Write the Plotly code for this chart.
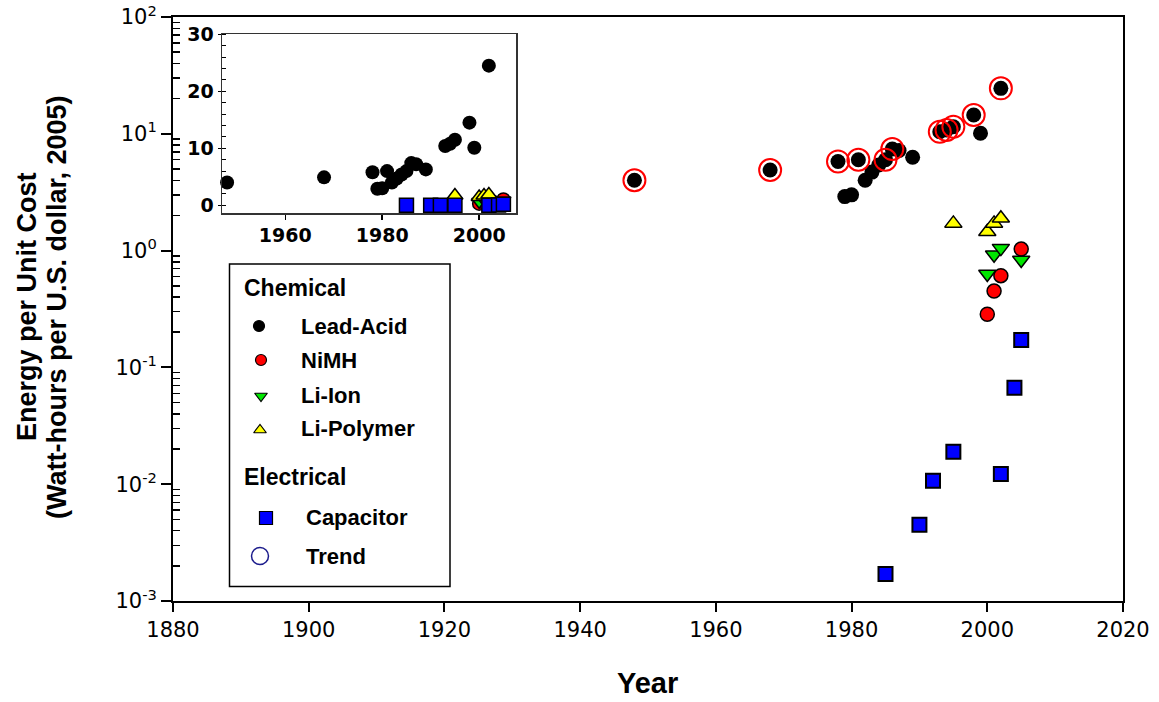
import plotly.graph_objects as go

# ---------------- data ----------------
lead_years = [1948, 1968, 1978, 1979, 1980, 1981, 1982, 1983, 1984, 1985, 1986, 1987, 1989, 1993, 1994, 1995, 1998, 1999, 2002]
lead_values = [4.0, 4.9, 5.8, 2.9, 3.0, 6.0, 4.0, 4.7, 5.4, 6.0, 7.4, 7.2, 6.3, 10.4, 10.8, 11.5, 14.5, 10.1, 24.5]

trend_years = [1948, 1968, 1978, 1981, 1985, 1986, 1993, 1994, 1995, 1998, 2002]
trend_values = [4.0, 4.9, 5.8, 6.0, 6.0, 7.4, 10.4, 10.8, 11.5, 14.5, 24.5]

nimh_years = [2000, 2001, 2002, 2005]
nimh_values = [0.285, 0.45, 0.61, 1.03]

liion_years = [2000, 2001, 2002, 2005]
liion_values = [0.63, 0.92, 1.05, 0.83]

lipoly_years = [1995, 2000, 2001, 2002]
lipoly_values = [1.71, 1.45, 1.71, 1.89]

cap_years = [1985, 1990, 1992, 1995, 2002, 2004, 2005]
cap_values = [0.0017, 0.0045, 0.0107, 0.019, 0.0122, 0.067, 0.172]

x_ticks = [1880, 1900, 1920, 1940, 1960, 1980, 2000, 2020]
y_tickvals = [0.001, 0.01, 0.1, 1, 10, 100]
y_ticktext = ["10<sup>-3</sup>", "10<sup>-2</sup>", "10<sup>-1</sup>", "10<sup>0</sup>", "10<sup>1</sup>", "10<sup>2</sup>"]
inset_x_ticks = [1960, 1980, 2000]
inset_y_ticks = [0, 10, 20, 30]

legend_chemical = ["Lead-Acid", "NiMH", "Li-Ion", "Li-Polymer"]
legend_electrical = ["Capacitor", "Trend"]

# ---------------- styles ----------------
BLACK = "#000000"
RED = "#ff0000"
GREEN = "#00e600"
YELLOW = "#ffff00"
BLUE = "#0000ff"
NAVY = "#1c1c8c"

W, H = 1159, 702
# plot area in page pixels
L, R, T, B = 173, 1123, 17, 601
PW, PH = R - L, B - T


def px(xp):
    return (xp - L) / PW


def py(yp):
    return (B - yp) / PH


fig = go.Figure()

# ---------- main plot ----------
edge = dict(color=BLACK, width=1.5)
fig.add_trace(go.Scatter(x=lead_years, y=lead_values, mode="markers",
                         marker=dict(symbol="circle", size=15, color=BLACK, opacity=1), showlegend=False))
fig.add_trace(go.Scatter(x=trend_years, y=trend_values, mode="markers",
                         marker=dict(symbol="circle-open", size=22, color=RED, opacity=1,
                                     line=dict(color=RED, width=2)),
                         showlegend=False))
fig.add_trace(go.Scatter(x=nimh_years, y=nimh_values, mode="markers",
                         marker=dict(symbol="circle", size=14, color=RED, line=edge, opacity=1), showlegend=False))
fig.add_trace(go.Scatter(x=liion_years, y=liion_values, mode="markers",
                         marker=dict(symbol="triangle-down", size=15, color=GREEN, line=edge, opacity=1),
                         showlegend=False))
fig.add_trace(go.Scatter(x=lipoly_years, y=lipoly_values, mode="markers",
                         marker=dict(symbol="triangle-up", size=15, color=YELLOW, line=edge, opacity=1),
                         showlegend=False))
fig.add_trace(go.Scatter(x=cap_years, y=cap_values, mode="markers",
                         marker=dict(symbol="square", size=14, color=BLUE, opacity=1,
                                     line=dict(color=BLACK, width=2)),
                         showlegend=False))

# ---------- inset ----------
fig.add_trace(go.Scatter(x=lead_years, y=lead_values, mode="markers", xaxis="x2", yaxis="y2", cliponaxis=False,
                         marker=dict(symbol="circle", size=14, color=BLACK, opacity=1), showlegend=False))
fig.add_trace(go.Scatter(x=nimh_years, y=nimh_values, mode="markers", xaxis="x2", yaxis="y2",
                         marker=dict(symbol="circle", size=13, color=RED, line=edge, opacity=1), showlegend=False))
fig.add_trace(go.Scatter(x=liion_years, y=liion_values, mode="markers", xaxis="x2", yaxis="y2",
                         marker=dict(symbol="triangle-down", size=13, color=GREEN, line=edge, opacity=1),
                         showlegend=False))
fig.add_trace(go.Scatter(x=lipoly_years, y=lipoly_values, mode="markers", xaxis="x2", yaxis="y2",
                         marker=dict(symbol="triangle-up", size=14, color=YELLOW, line=edge, opacity=1),
                         showlegend=False))
fig.add_trace(go.Scatter(x=cap_years, y=cap_values, mode="markers", xaxis="x2", yaxis="y2",
                         marker=dict(symbol="square", size=14, color=BLUE, line=edge, opacity=1),
                         showlegend=False))

# ---------- legend glyphs (overlay axes in page-pixel units) ----------
glyph_x = [259, 261, 261, 260, 266]
glyph_y = [326, 360, 396, 430, 518]
glyph_sym = ["circle", "circle", "triangle-down", "triangle-up", "square"]
glyph_col = [BLACK, RED, GREEN, YELLOW, BLUE]
glyph_size = [11, 11, 11, 11, 13]
fig.add_trace(go.Scatter(x=glyph_x, y=glyph_y, mode="markers", xaxis="x3", yaxis="y3",
                         marker=dict(symbol=glyph_sym, size=glyph_size, color=glyph_col, opacity=1,
                                     line=dict(color=BLACK, width=1.2)),
                         showlegend=False, hoverinfo="skip"))
fig.add_trace(go.Scatter(x=[260], y=[556], mode="markers", xaxis="x3", yaxis="y3",
                         marker=dict(symbol="circle-open", size=17, color=NAVY, opacity=1,
                                     line=dict(color=NAVY, width=1.5)),
                         showlegend=False, hoverinfo="skip"))

MAIN_TICK_FONT = dict(family="DejaVu Sans", size=21, color=BLACK)
INSET_TICK_FONT = dict(family="DejaVu Sans", size=19, color=BLACK, weight="bold")

fig.update_layout(
    width=W, height=H,
    margin=dict(l=L, r=W - R, t=T, b=H - B, pad=0, autoexpand=False),
    paper_bgcolor="white", plot_bgcolor="white",
    showlegend=False,
    xaxis=dict(range=[1880, 2020], tickvals=x_ticks, ticks="outside", ticklen=9, tickwidth=2,
               tickcolor=BLACK, showline=True, linecolor=BLACK, linewidth=2, mirror=True,
               showgrid=False, zeroline=False, tickfont=MAIN_TICK_FONT, automargin=False,
               ticklabeloverflow="allow"),
    yaxis=dict(type="log", range=[-3, 2], tickvals=y_tickvals, ticktext=y_ticktext,
               ticks="outside", ticklen=10, tickwidth=2, tickcolor=BLACK,
               showline=True, linecolor=BLACK, linewidth=2, mirror=True,
               showgrid=False, zeroline=False, tickfont=MAIN_TICK_FONT, automargin=False,
               ticklabeloverflow="allow",
               minor=dict(ticks="inside", ticklen=7, tickwidth=1.5, tickcolor=BLACK, showgrid=False,
                          tickvals=[k * 10.0 ** e for e in range(-3, 2) for k in range(2, 10)])),
    xaxis2=dict(domain=[px(222), px(516)], anchor="y2", range=[1946.95, 2007.6],
                tickvals=inset_x_ticks, ticks="outside", ticklen=5, tickwidth=1.5, tickcolor=BLACK,
                showline=True, linecolor="#333333", linewidth=1.5, mirror=True,
                showgrid=False, zeroline=False, tickfont=INSET_TICK_FONT, automargin=False),
    yaxis2=dict(domain=[py(213), py(34)], anchor="x2", range=[-1.35, 30.05],
                tickvals=inset_y_ticks, ticks="outside", ticklen=3, tickwidth=1.5, tickcolor=BLACK,
                showline=True, linecolor="#333333", linewidth=1.5, mirror=True,
                showgrid=False, zeroline=False, tickfont=INSET_TICK_FONT, automargin=False,
                minor=dict(ticks="inside", ticklen=4, tickwidth=1, tickcolor=BLACK, dtick=2, showgrid=False)),
    xaxis3=dict(overlaying="x", range=[L, R], visible=False, anchor="y3", automargin=False),
    yaxis3=dict(overlaying="y", range=[B, T], visible=False, anchor="x3", automargin=False),
)

# legend box
fig.add_shape(type="rect", xref="paper", yref="paper", x0=px(229.5), x1=px(450), y0=py(586.5), y1=py(264),
              line=dict(color=BLACK, width=1.5), fillcolor="rgba(0,0,0,0)", layer="above")

TITLE_FONT = dict(family="Liberation Sans", size=23, color=BLACK, weight="bold")
ITEM_FONT = dict(family="Liberation Sans", size=22, color=BLACK, weight="bold")

fig.add_annotation(text="Chemical", x=px(242), y=py(288), xref="paper", yref="paper",
                   xanchor="left", yanchor="middle", showarrow=False, font=TITLE_FONT)
for name, yy in zip(legend_chemical, [326, 360, 395, 429]):
    fig.add_annotation(text=name, x=px(299), y=py(yy), xref="paper", yref="paper",
                       xanchor="left", yanchor="middle", showarrow=False, font=ITEM_FONT)
fig.add_annotation(text="Electrical", x=px(242), y=py(477), xref="paper", yref="paper",
                   xanchor="left", yanchor="middle", showarrow=False, font=TITLE_FONT)
for name, yy in zip(legend_electrical, [517, 556]):
    fig.add_annotation(text=name, x=px(304), y=py(yy), xref="paper", yref="paper",
                       xanchor="left", yanchor="middle", showarrow=False, font=ITEM_FONT)

# axis titles
AX_FONT = dict(family="Liberation Sans", size=27, color=BLACK, weight="bold")
fig.add_annotation(text="Year", x=px(647), y=py(683), xref="paper", yref="paper",
                   xanchor="center", yanchor="middle", showarrow=False,
                   font=dict(family="Liberation Sans", size=29, color=BLACK, weight="bold"))
fig.add_annotation(text="Energy per Unit Cost", x=px(27), y=py(307), xref="paper", yref="paper",
                   xanchor="center", yanchor="middle", showarrow=False, textangle=-90, font=AX_FONT)
fig.add_annotation(text="(Watt-hours per U.S. dollar, 2005)", x=px(57), y=py(307), xref="paper", yref="paper",
                   xanchor="center", yanchor="middle", showarrow=False, textangle=-90, font=AX_FONT)

fig.write_html("out.html", config={"displayModeBar": False, "staticPlot": True},
               post_script="document.body.style.margin='0';")
